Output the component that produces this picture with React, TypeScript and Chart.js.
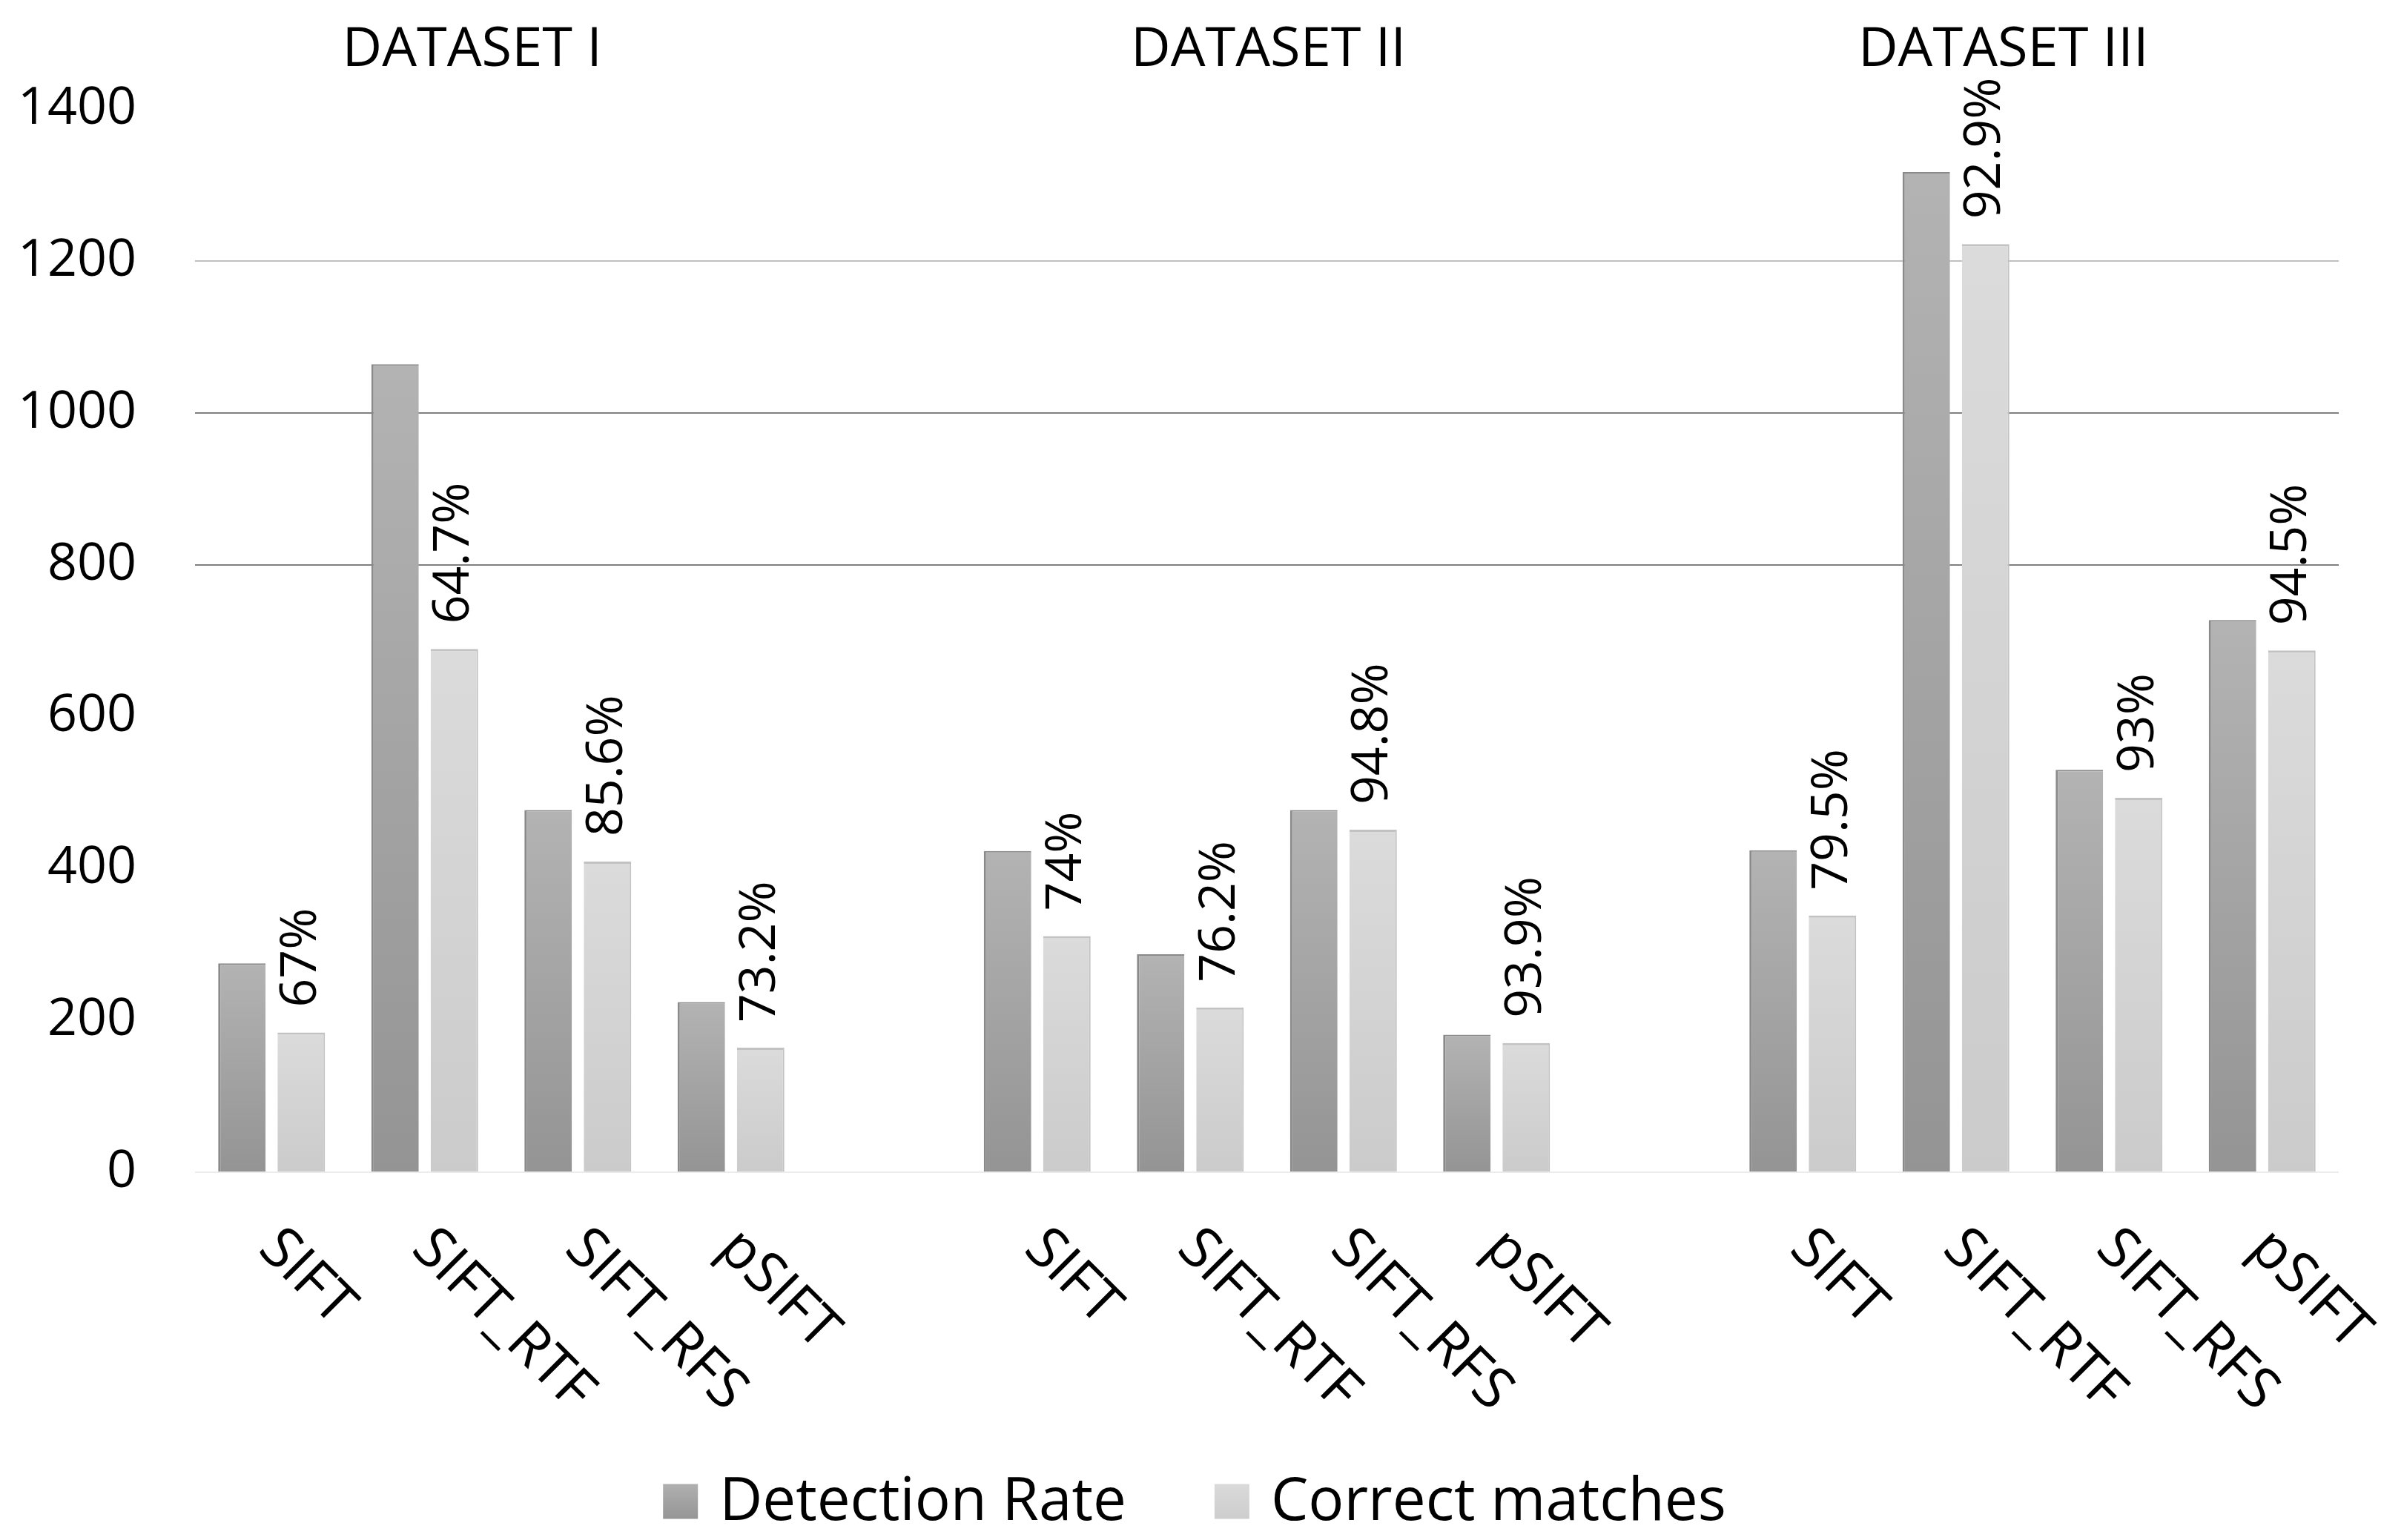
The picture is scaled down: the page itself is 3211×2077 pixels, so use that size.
import React, { useEffect, useRef } from "react";
import { Chart, registerables } from "chart.js";

Chart.register(...registerables);

// ---------- data ----------
const categories = [
  "SIFT", "SIFT_RTF", "SIFT_RFS", "pSIFT", "",
  "SIFT", "SIFT_RTF", "SIFT_RFS", "pSIFT", "",
  "SIFT", "SIFT_RTF", "SIFT_RFS", "pSIFT",
];
const detectionRate = [275, 1064, 477, 224, null, 423, 287, 477, 181, null, 424, 1317, 530, 727];
const correctMatches = [184, 689, 409, 164, null, 311, 217, 451, 170, null, 338, 1222, 493, 687];
const percentLabels = [
  "67%", "64.7%", "85.6%", "73.2%", "",
  "74%", "76.2%", "94.8%", "93.9%", "",
  "79.5%", "92.9%", "93%", "94.5%",
];
const groupTitles = ["DATASET I", "DATASET II", "DATASET III"];
const groupCenters = [1.5, 6.5, 11.5];
const seriesNames = ["Detection Rate", "Correct matches"];
const yTicks = [0, 200, 400, 600, 800, 1000, 1200, 1400];

// ---------- style ----------
const FONT = "'Open Sans', 'Noto Sans', sans-serif";
const W = 3211;
const H = 2077;
const titleNudge = [-0.19, 0.01, -0.19];

const gridColorFor = (v: number) => {
  if (v === 1200) return "#c0c0c0";
  if (v === 1000 || v === 800) return "#808080";
  if (v === 0) return "#ececec";
  return "rgba(0,0,0,0)";
};

function gradientFill(top: string, bottom: string) {
  return (ctx: any) => {
    const chart = ctx.chart;
    const y = chart.scales?.y;
    if (!chart.chartArea || !y || ctx.type !== "data" || ctx.raw == null) return top;
    const y0 = y.getPixelForValue(ctx.raw);
    const y1 = y.getPixelForValue(0);
    if (!isFinite(y0) || !isFinite(y1) || y0 === y1) return top;
    const g = chart.ctx.createLinearGradient(0, y0, 0, y1);
    g.addColorStop(0, top);
    g.addColorStop(1, bottom);
    return g;
  };
}

const overlayPlugin = {
  id: "overlay",
  afterDraw(chart: any) {
    const ctx = chart.ctx as CanvasRenderingContext2D;
    const xs = chart.scales.x;
    const area = chart.chartArea;
    const slot = xs.getPixelForValue(1) - xs.getPixelForValue(0);

    // rotated category labels
    ctx.save();
    ctx.fillStyle = "#000";
    ctx.font = `77px ${FONT}`;
    ctx.textAlign = "left";
    ctx.textBaseline = "alphabetic";
    categories.forEach((c, i) => {
      if (!c) return;
      const x = xs.getPixelForValue(i);
      ctx.save();
      ctx.translate(x - 20, area.bottom + 106);
      ctx.rotate(Math.PI / 4);
      ctx.fillText(c, 0, 0);
      ctx.restore();
    });
    ctx.restore();

    // percentage labels above correct matches bars
    const meta = chart.getDatasetMeta(1);
    ctx.save();
    ctx.fillStyle = "#000";
    ctx.font = `68px ${FONT}`;
    ctx.textAlign = "left";
    ctx.textBaseline = "middle";
    meta.data.forEach((el: any, i: number) => {
      const t = percentLabels[i];
      if (!t || correctMatches[i] == null) return;
      ctx.save();
      ctx.translate(el.x, el.y - 34);
      ctx.rotate(-Math.PI / 2);
      ctx.fillText(t, 0, 0);
      ctx.restore();
    });
    ctx.restore();

    // group titles
    ctx.save();
    ctx.fillStyle = "#000";
    ctx.font = `74px ${FONT}`;
    ctx.textAlign = "center";
    ctx.textBaseline = "middle";
    groupTitles.forEach((t, i) => {
      const x = xs.getPixelForValue(0) + (groupCenters[i] + titleNudge[i]) * slot;
      ctx.fillText(t, x, 68);
    });
    ctx.restore();

    // legend
    ctx.save();
    ctx.font = `80px ${FONT}`;
    ctx.textBaseline = "middle";
    ctx.textAlign = "left";
    const box = 47;
    const gapText = 29;
    const gapItem = 119;
    const names = chart.data.datasets.map((d: any) => d.label);
    const widths = names.map((n: string) => box + gapText + ctx.measureText(n).width);
    const total = widths.reduce((a: number, b: number) => a + b, 0) + gapItem * (names.length - 1);
    let x = 1611 - total / 2;
    const yc = 2025;
    names.forEach((n: string, i: number) => {
      const g = ctx.createLinearGradient(0, yc - box / 2, 0, yc + box / 2);
      if (i === 0) {
        g.addColorStop(0, "#b0b0b0");
        g.addColorStop(1, "#959595");
      } else {
        g.addColorStop(0, "#dadada");
        g.addColorStop(1, "#cdcdcd");
      }
      ctx.fillStyle = g;
      ctx.fillRect(x, yc - box / 2, box, box);
      ctx.fillStyle = "#000";
      ctx.fillText(n, x + box + gapText, yc + 2);
      x += widths[i] + gapItem;
    });
    ctx.restore();
  },
};

export default function App() {
  const ref = useRef<HTMLCanvasElement | null>(null);

  useEffect(() => {
    document.body.style.margin = "0";
    const canvas = ref.current!;
    const chart = new Chart(canvas, {
      type: "bar",
      data: {
        labels: categories,
        datasets: [
          {
            label: seriesNames[0],
            data: detectionRate as any,
            backgroundColor: gradientFill("#b3b3b3", "#949494") as any,
            borderColor: "#8a8a8a",
            borderWidth: { left: 3, top: 2, right: 0, bottom: 0 } as any,
            borderSkipped: false,
            categoryPercentage: 0.775,
            barPercentage: 0.8,
          },
          {
            label: seriesNames[1],
            data: correctMatches as any,
            backgroundColor: gradientFill("#dbdbdb", "#cbcbcb") as any,
            borderColor: "#c2c2c2",
            borderWidth: { left: 0, top: 3, right: 2, bottom: 0 } as any,
            borderSkipped: false,
            categoryPercentage: 0.775,
            barPercentage: 0.8,
          },
        ],
      },
      options: {
        responsive: false,
        animation: false,
        devicePixelRatio: 1,
        layout: { padding: { top: 147, left: 0, right: 57, bottom: 0 } },
        plugins: {
          legend: { display: false },
          tooltip: { enabled: false },
          title: { display: false },
        },
        scales: {
          x: {
            type: "category",
            grid: { display: false },
            border: { display: false },
            ticks: { display: false },
            afterFit: (s: any) => {
              s.height = 496;
            },
          },
          y: {
            min: 0,
            max: 1400,
            afterBuildTicks: (s: any) => {
              s.ticks = yTicks.map((v) => ({ value: v }));
            },
            afterFit: (s: any) => {
              s.width = 263;
            },
            border: { display: false },
            grid: {
              drawTicks: false,
              lineWidth: 2,
              color: (c: any) => gridColorFor(c.tick?.value),
            },
            ticks: {
              padding: 79,
              color: "#000",
              font: { family: FONT, size: 70 },
              callback: (v: any) => String(v),
            },
          },
        },
      },
      plugins: [overlayPlugin],
    });
    return () => chart.destroy();
  }, []);

  return (
    <div style={{ position: "fixed", left: 0, top: 0, width: W, height: H, background: "#fff" }}>
      <canvas ref={ref} width={W} height={H} style={{ display: "block", width: W, height: H }} />
    </div>
  );
}
